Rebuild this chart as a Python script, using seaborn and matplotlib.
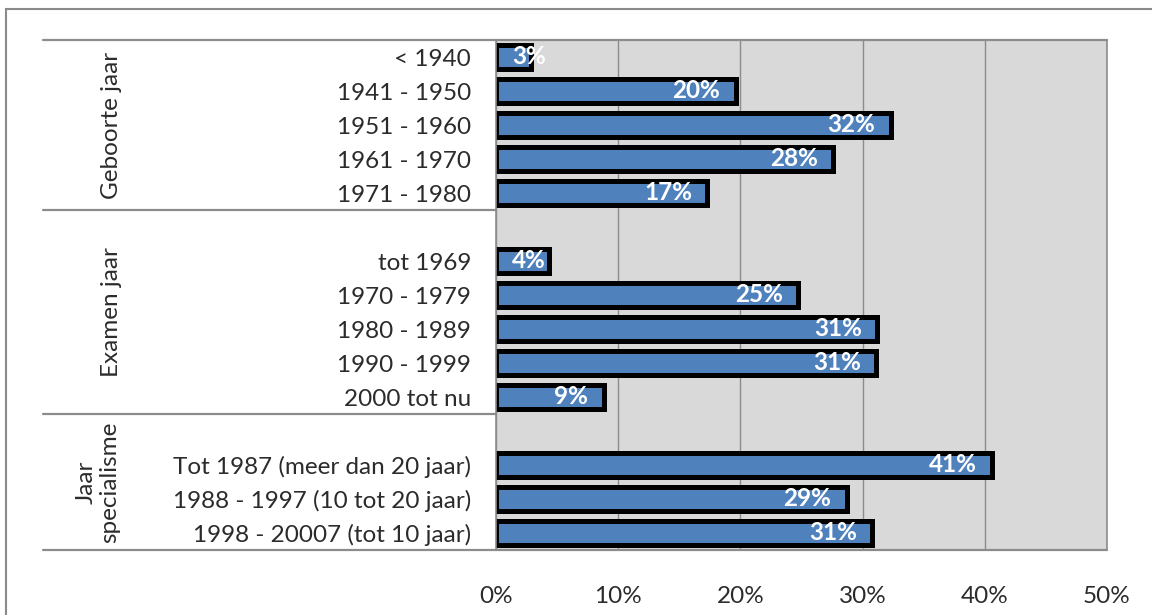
import numpy as np
import pandas as pd
import seaborn as sns
import matplotlib.pyplot as plt
import matplotlib.patheffects as pe
from matplotlib.lines import Line2D
from matplotlib.patches import Rectangle
from matplotlib.ticker import FuncFormatter

# Survey shares per category (percent)
geboorte_labels = ["< 1940", "1941 - 1950", "1951 - 1960", "1961 - 1970", "1971 - 1980"]
geboorte_values = [2.9, 19.6, 32.3, 27.6, 17.3]

examen_labels = ["tot 1969", "1970 - 1979", "1980 - 1989", "1990 - 1999", "2000 tot nu"]
examen_values = [4.3, 24.7, 31.2, 31.1, 8.8]

specialisme_labels = ["Tot 1987 (meer dan 20 jaar)", "1988 - 1997 (10 tot 20 jaar)",
                      "1998 - 20007 (tot 10 jaar)"]
specialisme_values = [40.6, 28.7, 30.8]

group_names = ["Geboorte jaar", "Examen jaar", "Jaar\nspecialisme"]
x_ticks = [0, 10, 20, 30, 40, 50]

sns.set_theme(style="white")
plt.rcParams["font.family"] = ["Lato", "DejaVu Sans"]

# Category order with an empty slot between the groups
gap1, gap2 = " ", "  "
order = geboorte_labels + [gap1] + examen_labels + [gap2] + specialisme_labels
df = pd.DataFrame({
    "categorie": geboorte_labels + examen_labels + specialisme_labels,
    "aandeel": geboorte_values + examen_values + specialisme_values,
})

W, H = 1152, 615
fig = plt.figure(figsize=(W / 100, H / 100), dpi=100)
left, right, top, bottom = 496, 1107, 40, 550
ax = fig.add_axes([left / W, 1 - bottom / H, (right - left) / W, (bottom - top) / H])

bar_color = "#4f81bd"
grid_color = "#8c8c8c"
text_color = "#2b2b2b"
fs = 17.5

sns.barplot(data=df, x="aandeel", y="categorie", order=order, orient="h",
            color=bar_color, saturation=1, width=0.68, edgecolor="black",
            linewidth=3.6, ax=ax)

ax.set_facecolor("#d9d9d9")
ax.set_xlim(0, 50)
ax.set_ylim(len(order) - 0.5, -0.5)
ax.set_xticks(x_ticks)
ax.xaxis.set_major_formatter(FuncFormatter(lambda v, p: f"{v:.0f}%"))
ax.grid(axis="x", color=grid_color, linewidth=1.0)
ax.grid(axis="y", visible=False)
ax.set_axisbelow(True)
ax.set_xlabel("")
ax.set_ylabel("")
ax.tick_params(axis="y", length=0, pad=18, labelsize=fs, labelcolor=text_color)
ax.tick_params(axis="x", length=0, pad=26, labelsize=fs, labelcolor=text_color)
for side in ["left", "right", "top", "bottom"]:
    ax.spines[side].set_visible(True)
    ax.spines[side].set_color(grid_color)
    ax.spines[side].set_linewidth(1.2)

# Bars: black outline with a soft drop shadow
for patch in ax.patches:
    patch.set_path_effects([
        pe.SimplePatchShadow(offset=(2.2, -2.2), shadow_rgbFace="#444444", alpha=0.5),
        pe.Normal(),
    ])

# Value labels inside the bar ends
values_by_cat = dict(zip(df["categorie"], df["aandeel"]))
for i, cat in enumerate(order):
    if cat not in values_by_cat:
        continue
    v = values_by_cat[cat]
    label = f"{round(v)}%"
    if v < 6:
        ax.annotate(label, xy=(0, i), xytext=(11.5, 0), textcoords="offset points",
                    ha="left", va="center", color="white", fontweight="bold",
                    fontsize=fs)
    else:
        ax.annotate(label, xy=(v, i), xytext=(-11, 0), textcoords="offset points",
                    ha="right", va="center", color="white", fontweight="bold",
                    fontsize=fs)

# Group frame lines extending into the label column
x0 = (43 - left) / (right - left)
trans = ax.get_yaxis_transform()
n_geb = len(geboorte_labels)
n_exa = len(examen_labels)
sep1 = n_geb - 0.5
sep2 = n_geb + 1 + n_exa - 0.5
for yv, x_end in [(-0.5, 1.0), (len(order) - 0.5, 1.0), (sep1, 0.0), (sep2, 0.0)]:
    ax.add_line(Line2D([x0, x_end], [yv, yv], transform=trans, color=grid_color,
                       linewidth=1.6, clip_on=False))

# Rotated group names centred on their blocks
spans = [(-0.5, sep1), (sep1, sep2), (sep2, len(order) - 0.5)]
gx = [(112 - left) / (right - left), (112 - left) / (right - left), (98 - left) / (right - left)]
for name, (a, b), xg in zip(group_names, spans, gx):
    ax.text(xg, (a + b) / 2, name, transform=trans, rotation=90, ha="center",
            va="center", fontsize=17.5, color=text_color, linespacing=1.15,
            multialignment="center")

# Outer chart border
fig.patches.append(Rectangle((6 / W, -0.2), 1.5, (H - 9) / H + 0.2,
                             transform=fig.transFigure, fill=False,
                             edgecolor="#8a8a8a", linewidth=1.5))

fig.savefig("out.png", dpi=100)
